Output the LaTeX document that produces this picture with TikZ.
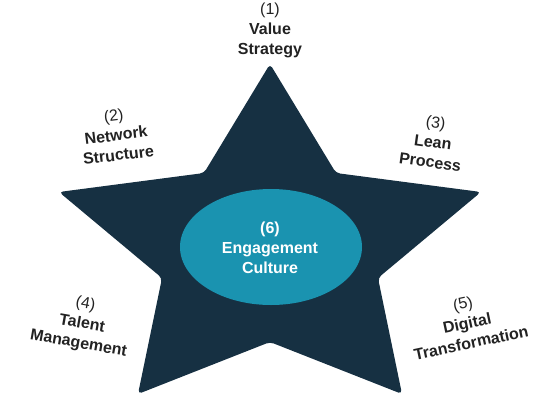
\documentclass[tikz,border=0pt]{standalone}
\usepackage{fontspec}
\setmainfont{Liberation Sans}
\usetikzlibrary{shapes.geometric}
\definecolor{starnavy}{HTML}{163042}
\definecolor{tealfill}{HTML}{1A93B0}
\definecolor{labelgray}{HTML}{222222}
\begin{document}
\begin{tikzpicture}[x=1pt,y=-1pt,
  lbl/.style={align=center,text=labelgray,font=\fontsize{16}{20}\selectfont,inner sep=0pt},
  centerlbl/.style={align=center,text=white,font=\fontsize{16}{20}\selectfont\bfseries,inner sep=0pt}]
\useasboundingbox (0,0) rectangle (555,400);
% star
\fill[starnavy,rounded corners=4pt]
  (270,64) -- (336,173) -- (481,192) -- (378,278) -- (402,394) -- (270,342)
  -- (138,394) -- (162,278) -- (59,192) -- (204,173) -- cycle;
% centre ellipse
\node[ellipse,fill=tealfill,minimum width=182pt,minimum height=116pt,inner sep=0pt] (core) at (271,247) {};
\node[centerlbl] (c6) at (270,248) {(6)\\Engagement\\Culture};
% labels
\node[lbl] (l1) at (270,30) {(1)\\\textbf{Value}\\\textbf{Strategy}};
\node[lbl,rotate=7] (l2) at (116,135) {(2)\\\textbf{Network}\\\textbf{Structure}};
\node[lbl,rotate=-8] (l3) at (433,142) {(3)\\\textbf{Lean}\\\textbf{Process}};
\node[lbl,rotate=-10] (l4) at (82,324) {(4)\\\textbf{Talent}\\\textbf{Management}};
\node[lbl,rotate=12] (l5) at (467,323) {(5)\\\textbf{Digital}\\\textbf{Transformation}};
\end{tikzpicture}
\end{document}
